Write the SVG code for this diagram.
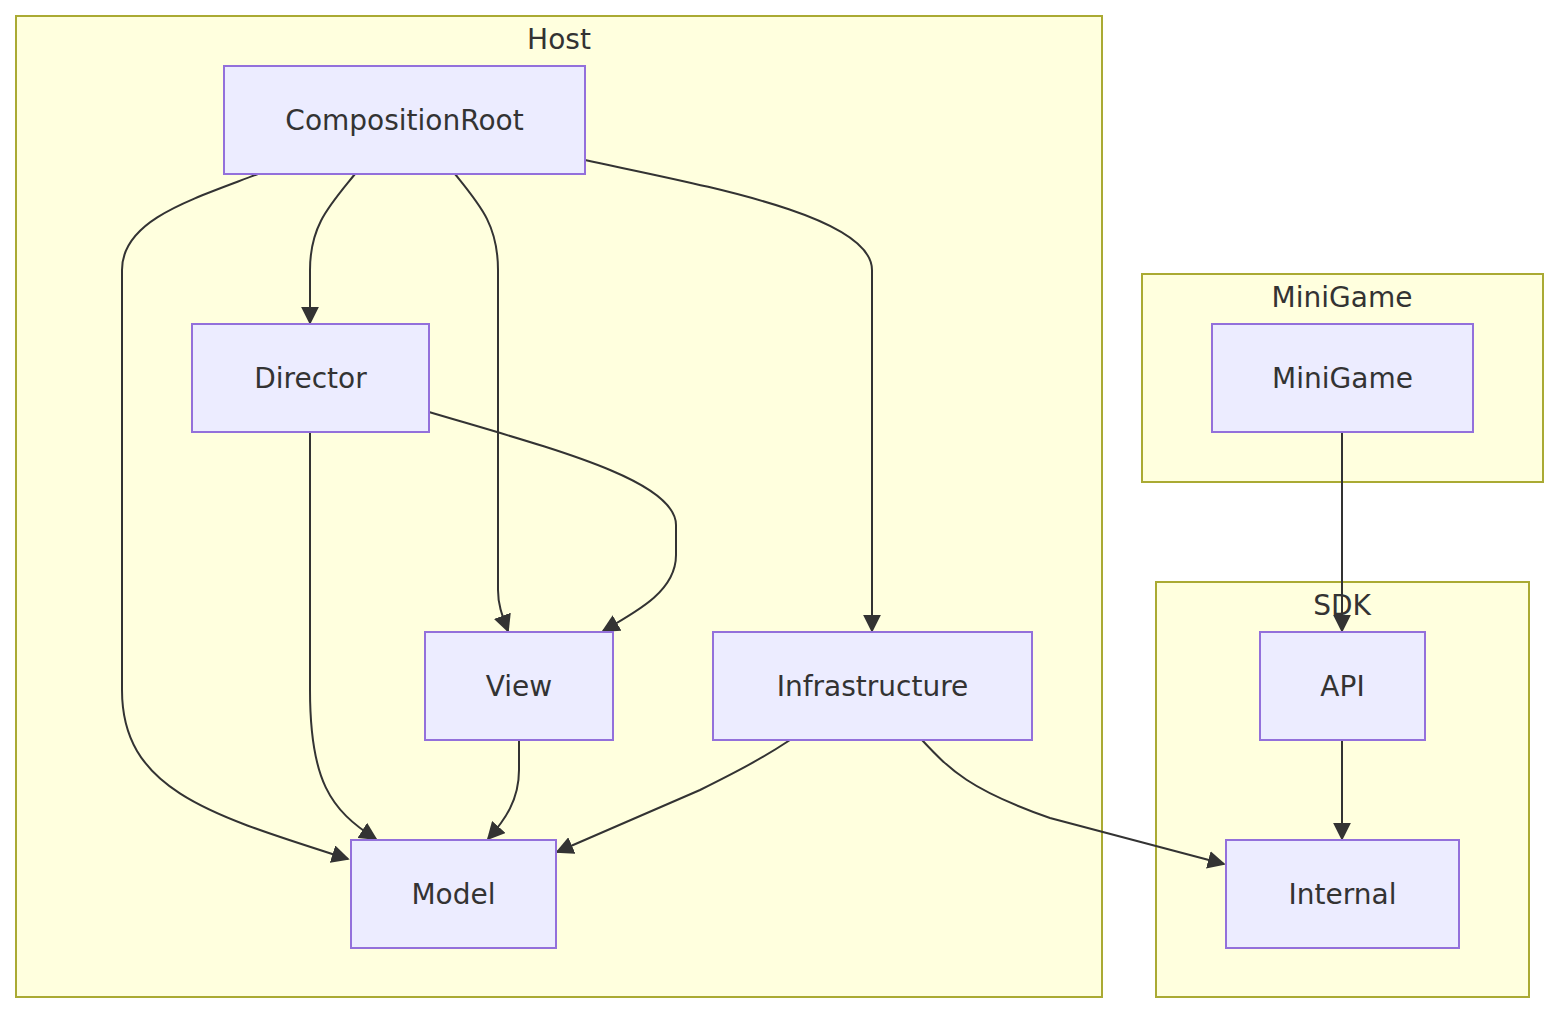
<svg xmlns="http://www.w3.org/2000/svg" width="1559" height="1014" viewBox="0 0 1559 1014">
<style>
.cluster rect{fill:#ffffde;stroke:#aaaa33;stroke-width:2}
.node rect{fill:#ECECFF;stroke:#9370DB;stroke-width:2}
text{font-family:"DejaVu Sans","Noto Sans",sans-serif;fill:#333;font-size:28px;text-anchor:middle;dominant-baseline:central}
.edge{fill:none;stroke:#333;stroke-width:2;marker-end:url(#arrow)}
</style>
<defs>
<marker id="arrow" viewBox="0 0 10 10" refX="9" refY="5" markerWidth="18" markerHeight="18" markerUnits="userSpaceOnUse" orient="auto">
<path d="M0,0 L10,5 L0,10 z" fill="#333"/>
</marker>
</defs>
<rect width="1559" height="1014" fill="#ffffff"/>
<g id="cluster-Host" class="cluster"><rect x="16" y="16" width="1086" height="981"/><text x="559" y="39">Host</text></g>
<g id="cluster-MiniGame" class="cluster"><rect x="1142" y="274" width="401" height="208"/><text x="1342" y="297">MiniGame</text></g>
<g id="cluster-SDK" class="cluster"><rect x="1156" y="582" width="373" height="415"/><text x="1342" y="605">SDK</text></g>
<g id="edges">
<path class="edge" d="M258,174 C190,200 122,220 122,270 L122,690 C122,790 210,815 348,859"/>
<path class="edge" d="M355,174 C330,205 310,225 310,270 L310,323"/>
<path class="edge" d="M455,174 C480,205 498,225 498,270 L498,590 C498,605 502,615 508,631"/>
<path class="edge" d="M585,160 C700,185 872,215 872,270 L872,631"/>
<path class="edge" d="M429,412 C550,448 676,480 676,525 L676,555 C676,590 640,610 603,631"/>
<path class="edge" d="M310,432 L310,690 C310,780 330,810 376,839"/>
<path class="edge" d="M519,740 L519,770 C519,800 505,820 488,839"/>
<path class="edge" d="M790,740 C760,760 730,775 700,790 L557,852"/>
<path class="edge" d="M922,740 C950,770 970,790 1050,818 L1224,864"/>
<path class="edge" d="M1342,432 L1342,631"/>
<path class="edge" d="M1342,740 L1342,839"/>
</g>
<g id="node-CompositionRoot" class="node"><rect x="224" y="66" width="361" height="108"/><text x="404.5" y="120">CompositionRoot</text></g>
<g id="node-Director" class="node"><rect x="192" y="324" width="237" height="108"/><text x="310.5" y="378">Director</text></g>
<g id="node-View" class="node"><rect x="425" y="632" width="188" height="108"/><text x="519" y="686">View</text></g>
<g id="node-Infrastructure" class="node"><rect x="713" y="632" width="319" height="108"/><text x="872.5" y="686">Infrastructure</text></g>
<g id="node-Model" class="node"><rect x="351" y="840" width="205" height="108"/><text x="453.5" y="894">Model</text></g>
<g id="node-MiniGame" class="node"><rect x="1212" y="324" width="261" height="108"/><text x="1342.5" y="378">MiniGame</text></g>
<g id="node-API" class="node"><rect x="1260" y="632" width="165" height="108"/><text x="1342.5" y="686">API</text></g>
<g id="node-Internal" class="node"><rect x="1226" y="840" width="233" height="108"/><text x="1342.5" y="894">Internal</text></g>
</svg>
